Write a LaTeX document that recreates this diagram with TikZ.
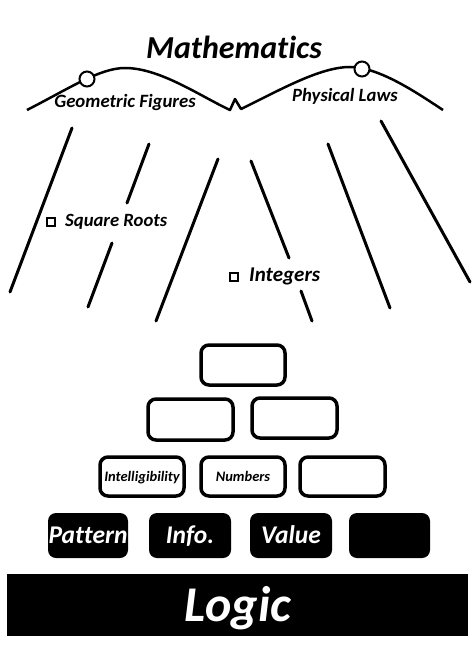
\documentclass[tikz,border=0pt]{standalone}
\usepackage{fontspec}
\setmainfont[Ligatures={NoCommon}]{Carlito}
\begin{document}
\begin{tikzpicture}[x=1pt,y=-1pt,
  lbl/.style={inner sep=0pt,font=\bfseries\itshape},
  wbox/.style={draw=black,line width=3.5pt,rounded corners=8pt,fill=white,inner sep=0pt,font=\bfseries\itshape\fontsize{14.5}{16}\selectfont,text height=9.5pt,text depth=0pt},
  bbox/.style={fill=black,rounded corners=8pt,inner sep=0pt,text=white,font=\bfseries\itshape\fontsize{25.5}{28}\selectfont,minimum height=45pt,text height=16.5pt,text depth=0pt},
  stroke/.style={line width=3pt,line cap=round},
  sq/.style={draw=black,line width=2.5pt,fill=white,minimum size=8pt,inner sep=0pt}
]
\useasboundingbox (0,0) rectangle (474,663);
\fill[white] (0,0) rectangle (474,663);

% title
\node[lbl,font=\bfseries\itshape\fontsize{32}{36}\selectfont] (math) at (234,47) {Mathematics};

% wavy line
\draw[line width=2.5pt,line join=round]
  (27,110) .. controls (70,88) and (100,68) .. (125,68)
  .. controls (160,68) and (200,96) .. (230,110)
  -- (235,99) -- (241,109)
  .. controls (280,90) and (320,67) .. (350,67)
  .. controls (380,67) and (420,95) .. (443,110);
\node[circle,draw=black,line width=2pt,fill=white,minimum size=15pt,inner sep=0pt] (c1) at (87,79) {};
\node[circle,draw=black,line width=2pt,fill=white,minimum size=15pt,inner sep=0pt] (c2) at (362,69) {};
\node[lbl,font=\bfseries\itshape\fontsize{18.8}{21}\selectfont] (geo) at (125,102) {Geometric Figures};
\node[lbl,font=\bfseries\itshape\fontsize{18.7}{21}\selectfont] (phys) at (345,96) {Physical Laws};

% slanted lines
\draw[stroke] (72,128) -- (10,292);
\draw[stroke] (149,144) -- (127,203);
\draw[stroke] (112,243) -- (88,307);
\draw[stroke] (218,159) -- (156,321);
\draw[stroke] (251,161) -- (289,258);
\draw[stroke] (301,291) -- (312,321);
\draw[stroke] (328,144) -- (390,308);
\draw[stroke] (381,121) -- (470,282);

% labels with squares
\node[sq] (s1) at (51,222) {};
\node[lbl,anchor=west,font=\bfseries\itshape\fontsize{18.7}{21}\selectfont] (sqr) at (65,222) {Square Roots};
\node[sq] (s2) at (234,277) {};
\node[lbl,anchor=west,font=\bfseries\itshape\fontsize{21}{24}\selectfont] (int) at (249,276) {Integers};

% pyramid of boxes
\node[wbox,minimum width=84pt,minimum height=40pt] (b1) at (243,365) {};
\node[wbox,minimum width=85pt,minimum height=41pt] (b21) at (190.5,419.5) {};
\node[wbox,minimum width=85pt,minimum height=40pt] (b22) at (294.5,418) {};
\node[wbox,minimum width=84pt,minimum height=39pt] (b31) at (142,476.5) {Intelligibility};
\node[wbox,minimum width=84pt,minimum height=39pt] (b32) at (243,476.5) {Numbers};
\node[wbox,minimum width=85pt,minimum height=39pt] (b33) at (342.5,476.5) {};

% black boxes
\node[bbox,minimum width=80pt] (p1) at (88,535.5) {Pattern};
\node[bbox,minimum width=82pt] (p2) at (190,535.5) {Info.};
\node[bbox,minimum width=82pt] (p3) at (291,535.5) {Value};
\node[bbox,minimum width=81pt] (p4) at (389.5,535.5) {};

% logic bar
\node[fill=black,minimum width=461pt,minimum height=62pt,inner sep=0pt,text=white,font=\bfseries\itshape\fontsize{50}{54}\selectfont,text height=32pt,text depth=0pt] (logic) at (237.5,605) {Logic};
\end{tikzpicture}
\end{document}
